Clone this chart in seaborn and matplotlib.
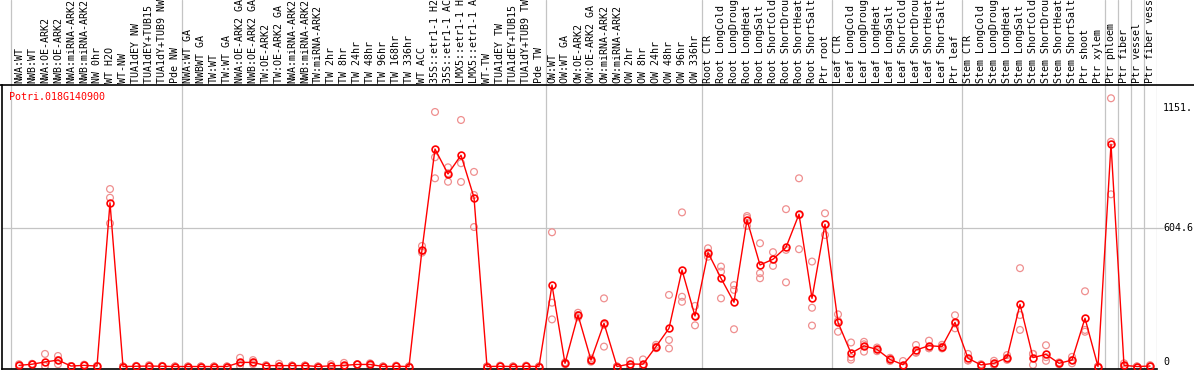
import numpy as np
import pandas as pd
import matplotlib
matplotlib.use("Agg")
import matplotlib.pyplot as plt
import seaborn as sns
from matplotlib.lines import Line2D
from matplotlib.transforms import blended_transform_factory

categories = [
    "NWA:WT", "NWB:WT", "NWA:OE-ARK2", "NWB:OE-ARK2", "NWA:miRNA-ARK2", "NWB:miRNA-ARK2",
    "NW 0hr", "WT H2O", "WT-NW", "TUA1dEY NW", "TUA1dEY+TUB15 NW", "TUA1dY+TUB9 NW", "Pde NW",
    "NWA:WT GA", "NWBWT GA", "TW:WT", "TW:WT GA", "NWA:OE-ARK2 GA", "NWB:OE-ARK2 GA",
    "TW:OE-ARK2", "TW:OE-ARK2 GA", "NWA:miRNA-ARK2", "NWB:miRNA-ARK2", "TW:miRNA-ARK2",
    "TW 2hr", "TW 8hr", "TW 24hr", "TW 48hr", "TW 96hr", "TW 168hr", "TW 336hr", "WT ACC",
    "35S::etr1-1 H2O", "35S::etr1-1 ACC", "LMX5::etr1-1 H2O", "LMX5::etr1-1 ACC", "WT-TW",
    "TUA1dEY TW", "TUA1dEY+TUB15 TW", "TUA1dY+TUB9 TW", "Pde TW",
    "OW:WT", "OW:WT GA", "OW:OE-ARK2", "OW:OE-ARK2 GA", "OW:miRNA-ARK2", "OW:miRNA-ARK2",
    "OW 2hr", "OW 8hr", "OW 24hr", "OW 48hr", "OW 96hr", "OW 336hr",
    "Root CTR", "Root LongCold", "Root LongDrought", "Root LongHeat", "Root LongSalt",
    "Root ShortCold", "Root ShortDrought", "Root ShortHeat", "Root ShortSalt", "Ptr root",
    "Leaf CTR", "Leaf LongCold", "Leaf LongDrought", "Leaf LongHeat", "Leaf LongSalt",
    "Leaf ShortCold", "Leaf ShortDrought", "Leaf ShortHeat", "Leaf ShortSalt", "Ptr leaf",
    "Stem CTR", "Stem LongCold", "Stem LongDrought", "Stem LongHeat", "Stem LongSalt",
    "Stem ShortCold", "Stem ShortDrought", "Stem ShortHeat", "Stem ShortSalt", "Ptr shoot",
    "Ptr xylem", "Ptr phloem", "Ptr fiber", "Ptr vessel", "Ptr fiber vessel",
]

mean_values = [
    5, 10, 20, 28, 2, 5, 2, 716, 0, 1, 2, 1, 0,
    0, 0, 0, 0, 18, 18, 4, 4, 4, 4, 0, 3, 5, 9, 9, 0, 1, 0, 510,
    951, 842, 924, 739, 0, 1, 0, 1, 0,
    356, 14, 225, 28, 189, 0, 11, 10, 87, 167, 422, 221,
    498, 386, 281, 641, 444, 469, 521, 666, 298, 622,
    193, 58, 90, 75, 31, 8, 72, 91, 87, 193,
    36, 7, 14, 39, 272, 39, 53, 14, 28, 211,
    0, 972, 5, 0, 2,
]

rep_a = [
    10, 12, 55, 46, 2, 8, 2, 776, 0, 3, 6, 3, 0,
    0, 0, 0, 0, 38, 28, 6, 12, 4, 4, 0, 10, 16, 9, 14, 0, 4, 0, 527,
    1113, 871, 1078, 851, 0, 4, 0, 4, 0,
    587, 18, 235, 35, 298, 0, 25, 31, 95, 313, 674, 265,
    517, 437, 356, 658, 539, 500, 688, 823, 459, 670,
    228, 105, 108, 83, 38, 24, 94, 113, 95, 224,
    55, 10, 25, 50, 430, 55, 93, 18, 42, 329,
    0, 1173, 14, 0, 6,
]
rep_b = [
    3, 8, 3, 28, 2, 4, 2, 738, 0, 0, 0, 0, 0,
    0, 0, 0, 0, 14, 18, 4, 0, 4, 4, 0, 0, 0, 9, 9, 0, 0, 0, 505,
    915, 845, 889, 750, 0, 0, 0, 0, 0,
    279, 14, 225, 28, 182, 0, 8, 0, 87, 116, 305, 221,
    498, 415, 335, 650, 408, 468, 510, 662, 257, 622,
    200, 40, 97, 75, 31, 0, 62, 80, 87, 188,
    27, 7, 10, 38, 225, 55, 41, 14, 28, 160,
    0, 983, 0, 0, 0,
]
rep_c = [
    2, 10, 2, 10, 2, 3, 2, 626, 0, 0, 0, 0, 0,
    0, 0, 0, 0, 2, 10, 2, 0, 4, 4, 0, 0, 0, 9, 4, 0, 0, 0, 498,
    823, 808, 807, 610, 0, 0, 0, 0, 0,
    206, 10, 215, 21, 87, 0, 0, 0, 80, 79, 283, 180,
    480, 298, 163, 615, 386, 440, 368, 513, 179, 575,
    152, 30, 65, 67, 24, 0, 60, 80, 79, 167,
    26, 4, 7, 29, 160, 7, 25, 10, 14, 152,
    0, 753, 0, 0, 0,
]

separators = [-0.6, 12.5, 40.5, 52.5, 62.5, 72.5, 83.5, 84.5, 85.5, 86.5, 87.5]
gene_title = "Potri.018G140900"
ytick_values = [1151, 604.6, 0]
ytick_labels = ["1151.", "604.6", "0"]

sns.set_style("white")
plt.rcParams["font.family"] = ["DejaVu Sans Mono"]

W, H = 1194, 370
fig = plt.figure(figsize=(W / 100, H / 100), dpi=100)


def px_box(x0, y0, x1, y1):
    return [x0 / W, 1 - y1 / H, (x1 - x0) / W, (y1 - y0) / H]


X0_PX, STEP_PX = 19.0, 13.0
LEFT_PX, RIGHT_PX, TOP_PX, BOT_PX = 1.5, 1157.0, 85.0, 369.0
ax = fig.add_axes(px_box(LEFT_PX, TOP_PX, RIGHT_PX, BOT_PX))
ax_top = fig.add_axes(px_box(LEFT_PX, 0, RIGHT_PX, TOP_PX), sharex=ax)

n = len(categories)
idx = np.arange(n)
df_mean = pd.DataFrame({"idx": idx, "value": mean_values})
df_reps = pd.DataFrame({
    "idx": np.concatenate([idx, idx, idx]),
    "value": np.concatenate([rep_a, rep_b, rep_c]),
})

xmin = (LEFT_PX - X0_PX) / STEP_PX
xmax = (RIGHT_PX - X0_PX) / STEP_PX
grid_c = "#c4c4c4"

for s in separators:
    ax.axvline(s, color=grid_c, lw=0.9, zorder=0)
    ax_top.axvline(s, color=grid_c, lw=0.9, zorder=0)

ax.plot([xmin, xmax + 0.45], [ytick_values[1]] * 2, color=grid_c, lw=0.9,
        zorder=0, clip_on=False)

sns.scatterplot(data=df_reps, x="idx", y="value", ax=ax, marker="o", s=24,
                facecolor="none", edgecolor="#ef8f8f", linewidth=0.9, zorder=2,
                legend=False)
sns.lineplot(data=df_mean, x="idx", y="value", ax=ax, color="#ff0000",
             linewidth=1.0, marker="o", markersize=4.9, markerfacecolor="none",
             markeredgecolor="#ff0000", markeredgewidth=1.2, errorbar=None,
             zorder=3, legend=False)

ax.set_xlim(xmin, xmax)
ax.set_ylim(-10.9, 1231)
ax.set_xticks([])
ax.set_yticks([])
ax.set_xlabel("")
ax.set_ylabel("")
for side in ["top", "right"]:
    ax.spines[side].set_visible(False)
for side in ["left", "bottom"]:
    ax.spines[side].set_visible(True)
    ax.spines[side].set_color("black")
    ax.spines[side].set_linewidth(1.2)
ax.set_facecolor("white")

ax_top.axis("off")
ax_top.set_ylim(0, 1)
tr = ax_top.get_xaxis_transform()
for i, lab in enumerate(categories):
    ax_top.text(i, 2.0 / TOP_PX, lab, rotation=90, ha="center", va="bottom",
                fontsize=7.2, color="black", transform=tr)

fig.add_artist(Line2D([0, 1], [1 - TOP_PX / H] * 2, color="black", lw=1.2))

fig.text(9.3 / W, 1 - 97 / H, gene_title, color="#ff0000", ha="left",
         va="center", fontsize=7.2)

btr = blended_transform_factory(fig.transFigure, ax.transData)
vas = ["top", "center", "bottom"]
for v, lab, va in zip(ytick_values, ytick_labels, vas):
    ax.text(1163 / W, v, lab, transform=btr, ha="left", va=va, fontsize=7.2,
            color="black", clip_on=False)

fig.savefig("out.png", dpi=100)
